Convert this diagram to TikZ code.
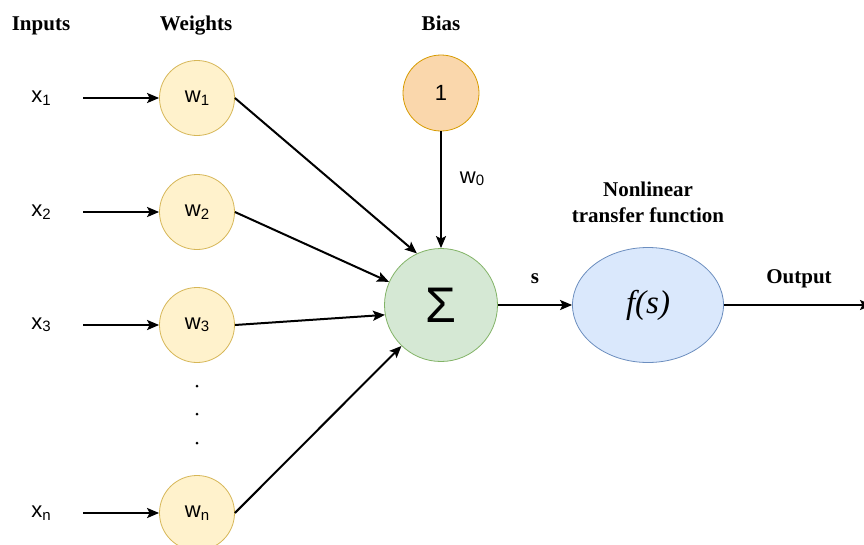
\documentclass[tikz,border=0pt]{standalone}
\usepackage{fontspec}
\setmainfont{Liberation Serif}
\newfontfamily\lsans{Liberation Sans}
\usetikzlibrary{shapes.geometric,arrows.meta}
\definecolor{wfill}{HTML}{FFF2CC}
\definecolor{wline}{HTML}{D6B656}
\definecolor{bfill}{HTML}{FAD7AC}
\definecolor{bline}{HTML}{D79B00}
\definecolor{sfill}{HTML}{D5E8D4}
\definecolor{sline}{HTML}{82B366}
\definecolor{ffill}{HTML}{DAE8FC}
\definecolor{fline}{HTML}{6C8EBF}
\newcommand{\sbs}[1]{\raisebox{-2.5pt}{\fontsize{15}{15}\selectfont #1}}
\tikzset{
  wnode/.style={circle,draw=wline,fill=wfill,line width=0.8pt,minimum size=75pt,inner sep=0pt,font=\lsans\fontsize{22}{22}\selectfont},
  bnode/.style={circle,draw=bline,fill=bfill,line width=0.8pt,minimum size=76pt,inner sep=0pt,font=\lsans\fontsize{22}{22}\selectfont},
  snode/.style={circle,draw=sline,fill=sfill,line width=0.8pt,minimum size=113pt,inner sep=0pt,font=\lsans\fontsize{50}{50}\selectfont},
  fnode/.style={ellipse,draw=fline,fill=ffill,line width=0.8pt,minimum width=151pt,minimum height=115pt,inner sep=0pt,font=\itshape\fontsize{33}{33}\selectfont},
  header/.style={anchor=base,inner sep=0pt,font=\bfseries\fontsize{21}{21}\selectfont},
  xlabel/.style={inner sep=0pt,font=\lsans\fontsize{22}{22}\selectfont},
  conn/.style={line width=2pt,-{Stealth[length=12pt,width=10pt,inset=2.5pt]}},
  dotmark/.style={circle,fill=black,inner sep=0pt,minimum size=3pt}
}
\begin{document}
\begin{tikzpicture}[x=1pt,y=-1pt]
\useasboundingbox[fill=white] (0,0) rectangle (864,544);
% headers
\node[header] (hin) at (41,30) {Inputs};
\node[header] (hw) at (196,30) {Weights};
\node[header] (hb) at (441,30) {Bias};
\node[header] (hnl) at (648,196) {Nonlinear};
\node[header] (htf) at (648,222) {transfer function};
\node[header] (hout) at (799,283) {Output};
\node[header] (hs) at (535,283) {s};
% input labels
\node[xlabel] (x1) at (41,98) {x\sbs{1}};
\node[xlabel] (x2) at (41,212) {x\sbs{2}};
\node[xlabel] (x3) at (41,325) {x\sbs{3}};
\node[xlabel] (xn) at (41,513) {x\sbs{n}};
% weights
\node[wnode] (w1) at (197,98) {w\sbs{1}};
\node[wnode] (w2) at (197,212) {w\sbs{2}};
\node[wnode] (w3) at (197,325) {w\sbs{3}};
\node[wnode] (wn) at (197,513) {w\sbs{n}};
\node[dotmark] (d1) at (197,386) {};
\node[dotmark] (d2) at (197,414) {};
\node[dotmark] (d3) at (197,443) {};
% bias, sum, function
\node[bnode] (b) at (441,93) {1};
\node[snode] (sig) at (441,305) {Σ};
\node[fnode] (f) at (648,305) {f(s)};
\node[xlabel,anchor=base] (w0) at (472,183) {w\sbs{0}};
\coordinate (outend) at (872,305);
% input arrows
\coordinate (s1) at (83,98);
\coordinate (s2) at (83,212);
\coordinate (s3) at (83,325);
\coordinate (sn) at (83,513);
\draw[conn] (s1) -- (w1.west);
\draw[conn] (s2) -- (w2.west);
\draw[conn] (s3) -- (w3.west);
\draw[conn] (sn) -- (wn.west);
% weight to sum
\draw[conn] (w1.east) -- (sig.115);
\draw[conn] (w2.east) -- (sig.156.5);
\draw[conn] (w3.east) -- (sig.190);
\draw[conn] (wn.east) -- (sig.226);
\draw[conn] (b.south) -- (sig.north);
\draw[conn] (sig.east) -- (f.west);
\draw[conn] (f.east) -- (outend);
\end{tikzpicture}
\end{document}
